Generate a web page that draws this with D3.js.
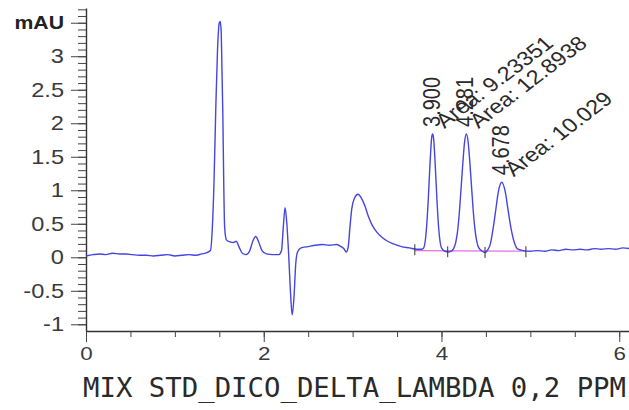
<!DOCTYPE html>
<html>
<head>
<meta charset="utf-8">
<title>Chromatogram</title>
<script src="https://d3js.org/d3.v7.min.js"></script>
<style>body{margin:0;background:#fff}</style>
</head>
<body>
<svg width="629" height="410"></svg>
<script>
// retention time (min) and signal (mAU)
const times = [0.00,0.08,0.15,0.22,0.30,0.38,0.45,0.52,0.60,0.68,0.76,0.84,0.92,1.00,1.08,1.16,1.24,1.30,1.36,1.40,
  1.42,1.44,1.46,1.48,1.50,1.51,1.52,1.53,1.54,1.55,1.56,1.58,1.62,1.66,1.69,1.72,1.76,1.80,1.84,1.88,1.91,1.94,1.98,
  2.03,2.10,2.17,2.20,2.22,2.24,2.26,2.28,2.30,2.32,2.34,2.36,2.38,2.42,2.50,2.58,2.66,2.74,2.82,2.87,2.90,2.93,2.95,
  2.97,2.99,3.02,3.06,3.10,3.14,3.18,3.22,3.27,3.32,3.38,3.46,3.55,3.64,3.72,3.78,3.80,3.83,3.85,3.87,3.89,3.90,3.91,
  3.93,3.95,3.97,4.00,4.04,4.08,4.12,4.14,4.16,4.18,4.20,4.22,4.24,4.26,4.28,4.30,4.32,4.34,4.36,4.38,4.40,4.42,4.45,
  4.49,4.52,4.55,4.58,4.61,4.64,4.68,4.72,4.75,4.78,4.82,4.86,4.92,5.00,5.08,5.16,5.24,5.32,5.40,5.48,5.56,5.64,5.72,
  5.80,5.88,5.96,6.04,6.11];
const mau = [0.02,0.04,0.05,0.04,0.06,0.05,0.05,0.04,0.03,0.03,0.02,0.03,0.04,0.02,0.03,0.04,0.03,0.05,0.07,0.10,
  0.40,1.10,2.20,3.10,3.50,3.52,3.40,2.80,2.10,1.10,0.45,0.26,0.23,0.22,0.24,0.16,0.06,0.04,0.09,0.25,0.31,0.24,0.10,
  0.05,0.04,0.04,0.10,0.45,0.74,0.50,0.05,-0.50,-0.86,-0.60,-0.10,0.08,0.14,0.16,0.18,0.19,0.18,0.19,0.16,0.13,0.08,0.15,
  0.45,0.72,0.88,0.94,0.88,0.76,0.60,0.48,0.38,0.31,0.25,0.20,0.16,0.14,0.12,0.12,0.14,0.41,0.83,1.37,1.79,1.84,1.79,
  1.37,0.83,0.41,0.14,0.09,0.08,0.10,0.14,0.22,0.38,0.65,1.02,1.40,1.72,1.84,1.72,1.40,1.02,0.65,0.38,0.22,0.14,0.10,
  0.07,0.11,0.20,0.42,0.70,0.98,1.12,0.96,0.70,0.45,0.22,0.12,0.10,0.09,0.10,0.09,0.11,0.10,0.12,0.11,0.12,0.11,0.13,
  0.12,0.13,0.12,0.14,0.13];

const yTicks = [-1, -0.5, 0, 0.5, 1, 1.5, 2, 2.5, 3, 3.5];
const yLabels = ["-1", "-0.5", "0", "0.5", "1", "1.5", "2", "2.5", "3", "mAU"];
const xTicks = [0, 2, 4, 6];
const xLabels = ["0", "2", "4", "6"];

const peakRT = [3.900, 4.281, 4.678];
const peakTop = [1.84, 1.84, 1.12];
const peakLabel = ["3.900", "4.281", "4.678"];
const peakArea = ["9.23351", "12.8938", "10.029"];

// integration baseline and peak start/end marks
const baseT = [3.70, 4.95];
const baseV = [0.10, 0.09];
const markT = [3.70, 4.07, 4.49, 4.95];
const markV = [0.12, 0.09, 0.08, 0.09];

const title = "MIX STD_DICO_DELTA_LAMBDA 0,2 PPM";

const svg = d3.select("svg");
const stretch = 1.18;
const font = "'Liberation Sans', Arial, sans-serif";

const x = d3.scaleLinear().domain([0, 6.11]).range([86, 629]);
const y = d3.scaleLinear().domain([-1.10, 3.72]).range([331, 8]);

// y axis: minor ticks every 0.1, major every 0.5
svg.append("g")
  .attr("transform", "translate(86,0)")
  .call(d3.axisLeft(y).tickValues(d3.range(-10, 38).map(d => d / 10)).tickSize(8).tickSizeOuter(0).tickFormat(""))
  .call(g => g.select(".domain").attr("stroke", "#333").attr("stroke-width", 1.4))
  .call(g => g.selectAll(".tick line").attr("stroke", "#444"));

const yAxis = svg.append("g")
  .attr("transform", "translate(86,0)")
  .call(d3.axisLeft(y).tickValues(yTicks).tickSize(15).tickPadding(7).tickSizeOuter(0)
    .tickFormat((d, i) => yLabels[i]));
yAxis.select(".domain").remove();
yAxis.selectAll(".tick line").attr("stroke", "#444");
yAxis.selectAll("text")
  .attr("font-family", font).attr("font-size", 20).attr("fill", "#3a3a3a")
  .attr("x", -22 / stretch).attr("transform", `scale(${stretch},1)`)
  .filter(d => d === 3.5).attr("font-weight", "bold").attr("font-size", 18).attr("fill", "#222");

// x axis: minor every 0.5, labelled every 2
svg.append("g")
  .attr("transform", "translate(0,331)")
  .call(d3.axisBottom(x).tickValues(d3.range(0, 13).map(d => d / 2)).tickSize(6).tickSizeOuter(0).tickFormat(""))
  .call(g => g.select(".domain").attr("stroke", "#333").attr("stroke-width", 1.4))
  .call(g => g.selectAll(".tick line").attr("stroke", "#444"));

const xAxis = svg.append("g")
  .attr("transform", "translate(0,331)")
  .call(d3.axisBottom(x).tickValues(xTicks).tickSize(11).tickPadding(5).tickSizeOuter(0)
    .tickFormat((d, i) => xLabels[i]));
xAxis.select(".domain").remove();
xAxis.selectAll(".tick line").attr("stroke", "#444");
xAxis.selectAll("text")
  .attr("font-family", font).attr("font-size", 19).attr("fill", "#3a3a3a")
  .attr("transform", `scale(${stretch},1)`);

// integration baseline
svg.append("path")
  .datum(baseT.map((t, i) => [t, baseV[i]]))
  .attr("fill", "none").attr("stroke", "#e070e0").attr("stroke-width", 1.2)
  .attr("d", d3.line().x(d => x(d[0])).y(d => y(d[1])));

// trace
const pts = times.map((t, i) => [t, mau[i]]);
svg.append("path")
  .datum(pts)
  .attr("fill", "none")
  .attr("stroke", "#4545e0")
  .attr("stroke-width", 1.4)
  .attr("d", d3.line().x(d => x(d[0])).y(d => y(d[1])).curve(d3.curveMonotoneX));

svg.append("g").selectAll("line")
  .data(markT)
  .join("line")
  .attr("x1", d => x(d)).attr("x2", d => x(d))
  .attr("y1", (d, i) => y(markV[i]) - 5).attr("y2", (d, i) => y(markV[i]) + 6)
  .attr("stroke", "#333").attr("stroke-width", 1);

// peak annotations
const ann = svg.append("g").attr("font-family", font).attr("font-size", 20).attr("fill", "#2a2a2a");
ann.selectAll("text.rt")
  .data(peakRT)
  .join("text")
  .attr("class", "rt")
  .attr("transform", (d, i) => `translate(${x(d) + 7},${y(peakTop[i]) - 7}) scale(${stretch},1) rotate(-90)`)
  .text((d, i) => peakLabel[i]);
ann.selectAll("text.area")
  .data(peakRT)
  .join("text")
  .attr("class", "area")
  .attr("transform", (d, i) => `translate(${x(d) + 12},${y(peakTop[i]) - 5}) scale(${stretch},1) rotate(-42)`)
  .text((d, i) => "Area: " + peakArea[i]);

svg.append("text")
  .attr("x", 83).attr("y", 397)
  .attr("font-family", "'DejaVu Sans Mono', monospace")
  .attr("font-size", 26)
  .attr("textLength", 543)
  .attr("lengthAdjust", "spacingAndGlyphs")
  .attr("fill", "#2a2a2a")
  .text(title);
</script>
</body>
</html>
